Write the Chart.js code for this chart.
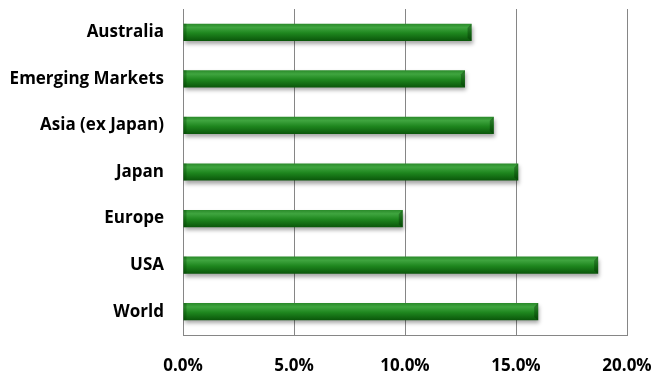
<!DOCTYPE html>
<html>
<head>
<meta charset="utf-8">
<script src="https://cdn.jsdelivr.net/npm/chart.js@4"></script>
<style>
  html, body { margin: 0; padding: 0; background: #fff; }
  #wrap { width: 657px; height: 376px; }
</style>
</head>
<body>
<div id="wrap"><canvas id="myChart"></canvas></div>
<script>
const regions = ['Australia', 'Emerging Markets', 'Asia (ex Japan)', 'Japan', 'Europe', 'USA', 'World'];
const returns = [13.0, 12.7, 14.0, 15.1, 9.9, 18.7, 16.0];
const tickValues = [0, 5, 10, 15, 20];

const BAR_PCT = 0.37;

// each bar gets its own vertical gradient, from the category scale
function barGradient(context) {
    const chart = context.chart;
    const yScale = chart.scales.y;
    if (!chart.chartArea || !yScale) return '#1f8a1f';
    const mid = yScale.getPixelForValue(context.dataIndex);
    const h = (chart.chartArea.bottom - chart.chartArea.top) / regions.length * BAR_PCT;
    const top = mid - h / 2;
    const g = chart.ctx.createLinearGradient(0, top, 0, top + h);
    g.addColorStop(0, '#2a8a2a');
    g.addColorStop(0.22, '#3fa53f');
    g.addColorStop(0.55, '#1e861e');
    g.addColorStop(1, '#0a560a');
    return g;
}

// soft drop shadow under the bars, plus a little bevel at the bar ends
const barStyle = {
    id: 'barStyle',
    beforeDatasetsDraw(chart) {
        const ctx = chart.ctx;
        ctx.save();
        ctx.shadowColor = 'rgba(0,0,0,0.35)';
        ctx.shadowBlur = 4;
        ctx.shadowOffsetY = 3;
        ctx.shadowOffsetX = 1;
    },
    afterDatasetsDraw(chart) {
        const ctx = chart.ctx;
        ctx.restore();
        ctx.save();
        chart.getDatasetMeta(0).data.forEach(bar => {
            const top = bar.y - bar.height / 2;
            const bot = bar.y + bar.height / 2;
            ctx.fillStyle = 'rgba(0,40,0,0.35)';
            ctx.beginPath();
            ctx.moveTo(bar.x, top);
            ctx.lineTo(bar.x - 4, top + 4);
            ctx.lineTo(bar.x - 4, bot - 3);
            ctx.lineTo(bar.x, bot);
            ctx.closePath();
            ctx.fill();
            ctx.fillStyle = 'rgba(0,60,0,0.3)';
            ctx.fillRect(bar.base, top, 3, bar.height);
        });
        ctx.restore();
    }
};

const ctx = document.getElementById('myChart');

new Chart(ctx, {
    type: 'bar',
    data: {
        labels: regions,
        datasets: [{
            data: returns,
            backgroundColor: barGradient,
            borderWidth: 0,
            categoryPercentage: 1,
            barPercentage: BAR_PCT
        }]
    },
    options: {
        indexAxis: 'y',
        responsive: true,
        maintainAspectRatio: false,
        animation: false,
        layout: { padding: { left: 0, right: 30, top: 9, bottom: 0 } },
        plugins: {
            legend: { display: false },
            tooltip: { enabled: false }
        },
        scales: {
            x: {
                min: 0,
                max: 20,
                afterBuildTicks: axis => { axis.ticks = tickValues.map(v => ({ value: v })); },
                afterFit: axis => {
                    axis.height = 41;
                    axis.paddingLeft = 0;
                    axis.paddingRight = 0;
                },
                grid: { color: '#868686', drawTicks: false },
                border: { color: '#868686' },
                ticks: {
                    padding: 21,
                    color: '#000',
                    font: { family: 'Open Sans', size: 17, weight: 'bold' },
                    callback: v => v.toFixed(1) + '%'
                }
            },
            y: {
                afterFit: axis => {
                    axis.width = 183;
                    axis.paddingTop = 0;
                    axis.paddingBottom = 0;
                },
                grid: { display: false, drawTicks: false },
                border: { color: '#868686' },
                ticks: {
                    padding: 19,
                    color: '#000',
                    font: { family: 'Open Sans', size: 17, weight: 'bold' }
                }
            }
        }
    },
    plugins: [barStyle]
});
</script>
</body>
</html>
